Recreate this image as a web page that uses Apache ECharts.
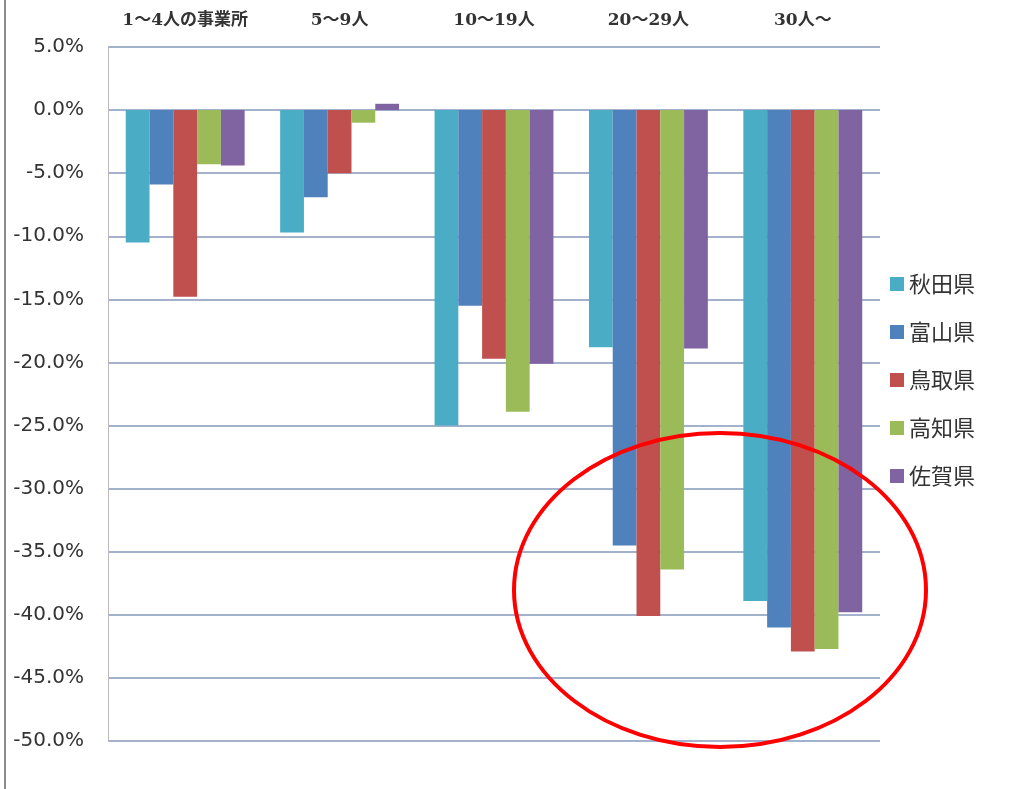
<!DOCTYPE html>
<html>
<head>
<meta charset="utf-8">
<script src="https://cdn.jsdelivr.net/npm/echarts@6/dist/echarts.min.js"></script>
<style>
  html, body { margin: 0; padding: 0; background: #fff; }
  #main { width: 1009px; height: 789px; }
</style>
</head>
<body>
<div id="main"></div>
<script>
// 事業所規模別の増減率
var categories = ['1～4人の事業所', '5～9人', '10～19人', '20～29人', '30人～'];
var prefs = ['秋田県', '富山県', '鳥取県', '高知県', '佐賀県'];
var akita   = [-10.5, -9.7, -25.0, -18.8, -38.9];
var toyama  = [-5.9, -6.9, -15.5, -34.5, -41.0];
var tottori = [-14.8, -5.0, -19.7, -40.1, -42.9];
var kochi   = [-4.3, -1.0, -23.9, -36.4, -42.7];
var saga    = [-4.4, 0.5, -20.1, -18.9, -39.8];
var colors = ['#4bacc6', '#4f81bd', '#c0504d', '#9bbb59', '#8064a2'];

var chart = echarts.init(document.getElementById('main'));

var allData = [akita, toyama, tottori, kochi, saga];
var series = prefs.map(function (name, i) {
  return {
    name: name,
    type: 'bar',
    barGap: '0%',
    barCategoryGap: '23%',
    itemStyle: { color: colors[i] },
    data: allData[i]
  };
});

var option = {
  backgroundColor: '#fff',
  color: colors,
  grid: { left: 108, right: 129, top: 47, bottom: 48 },
  legend: {
    orient: 'vertical',
    left: 885,
    top: 268,
    icon: 'rect',
    itemWidth: 14,
    itemHeight: 14,
    itemGap: 26,
    textStyle: { fontSize: 22, color: '#333', fontFamily: 'Noto Sans CJK JP' },
    data: prefs
  },
  xAxis: {
    type: 'category',
    position: 'top',
    data: categories,
    axisLine: { show: false },
    axisTick: { show: false },
    axisLabel: {
      interval: 0,
      hideOverlap: false,
      margin: 18,
      fontSize: 17,
      fontWeight: 'bold',
      color: '#333',
      fontFamily: 'DejaVu Serif, Noto Sans CJK JP'
    }
  },
  yAxis: {
    type: 'value',
    min: -50,
    max: 5,
    interval: 5,
    axisLine: { show: true, lineStyle: { color: '#bbb', width: 1 } },
    axisTick: { show: false },
    axisLabel: {
      margin: 24,
      fontSize: 20,
      color: '#333',
      fontFamily: 'DejaVu Sans',
      formatter: function (v) { return v.toFixed(1) + '%'; }
    },
    splitLine: { lineStyle: { color: '#8497bd', width: 1.5 } }
  },
  graphic: [
    {
      type: 'line',
      shape: { x1: 5, y1: 0, x2: 5, y2: 789 },
      style: { stroke: '#8c8c8c', lineWidth: 2 }
    },
    {
      type: 'ellipse',
      shape: { cx: 720, cy: 590, rx: 206, ry: 157 },
      style: { fill: null, stroke: '#ff0000', lineWidth: 4 },
      z: 100
    }
  ],
  series: series
};

chart.setOption(option);
</script>
</body>
</html>
